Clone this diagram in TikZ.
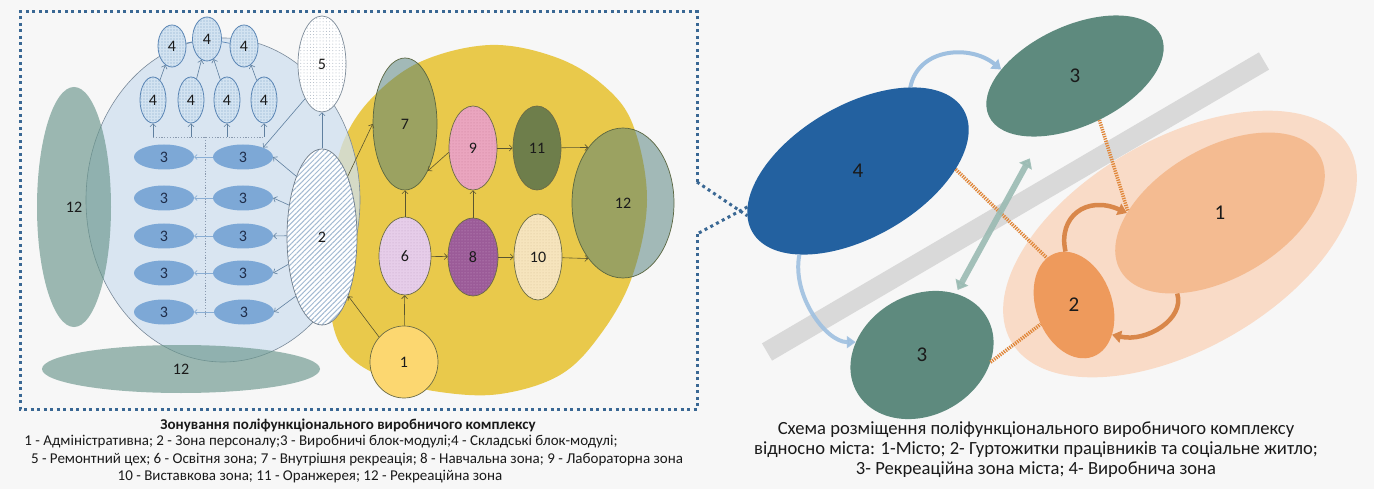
\documentclass[tikz,border=0pt]{standalone}
\usepackage{fontspec}
\setmainfont{Carlito}
\usetikzlibrary{shapes.geometric,patterns,patterns.meta,arrows.meta}
\definecolor{bgc}{HTML}{F7F7F7}
\definecolor{boxc}{HTML}{3A6894}
\definecolor{yel}{HTML}{E9C94B}
\definecolor{bluec}{HTML}{CFE0F0}
\definecolor{bluel}{HTML}{7A8A9A}
\definecolor{greyt}{HTML}{6A968C}
\definecolor{olvt}{HTML}{4E7C78}
\definecolor{olvl}{HTML}{5A6640}
\definecolor{threec}{HTML}{7DA8D6}
\definecolor{threet}{HTML}{1F2D4A}
\definecolor{fourf}{HTML}{D3E3F1}
\definecolor{fourd}{HTML}{7FA3C8}
\definecolor{fourl}{HTML}{5B86B5}
\definecolor{fivel}{HTML}{7D8B99}
\definecolor{fived}{HTML}{A9B4C0}
\definecolor{twol}{HTML}{6E7C8A}
\definecolor{twoh}{HTML}{A3BAD2}
\definecolor{sixf}{HTML}{E6CDE9}
\definecolor{sixd}{HTML}{C2A3C6}
\definecolor{eightf}{HTML}{9B5B98}
\definecolor{eightd}{HTML}{C99BC6}
\definecolor{ninef}{HTML}{EAA5BF}
\definecolor{nined}{HTML}{C98099}
\definecolor{tenf}{HTML}{F6E4BD}
\definecolor{tend}{HTML}{D6C196}
\definecolor{elevf}{HTML}{6E7E4B}
\definecolor{onef}{HTML}{FCD770}
\definecolor{yline}{HTML}{6B6B45}
\definecolor{barr}{HTML}{5F7F9F}
\definecolor{lbarr}{HTML}{8AAED4}
\definecolor{yarr}{HTML}{5A5530}
\definecolor{dotg}{HTML}{8B9BB0}
\definecolor{barc}{HTML}{D9D9D9}
\definecolor{rout}{HTML}{F9DBC7}
\definecolor{rone}{HTML}{F4BB91}
\definecolor{rtwo}{HTML}{EE9A5C}
\definecolor{rthree}{HTML}{5E8A7E}
\definecolor{rfour}{HTML}{2361A0}
\definecolor{odotc}{HTML}{E0873A}
\definecolor{dblc}{HTML}{9ABBB3}
\definecolor{bcurc}{HTML}{9FC0E0}
\definecolor{ocurc}{HTML}{D9874A}
\definecolor{txt}{HTML}{1A1A1A}
\begin{document}
\begin{tikzpicture}[x=1pt,y=-1pt,
  ell/.style={ellipse, inner sep=0pt, font=\fontsize{16}{19}\selectfont, text=txt},
  four/.style={ell, draw=fourl, line width=0.8pt, preaction={fill=fourf},
     pattern={Dots[radius=0.55pt,distance=3pt]}, pattern color=fourd},
  three/.style={ell, fill=threec, minimum width=60pt, minimum height=25pt, text=threet},
  yell/.style={ell, draw=yline, line width=0.7pt},
  larr/.style={draw=barr, line width=0.6pt, -{Straight Barb[length=3pt,width=6pt]}},
  sarr/.style={draw=lbarr, line width=0.7pt, -{Straight Barb[length=2.5pt,width=5pt]}},
  yarrow/.style={draw=yarr, line width=0.6pt, -{Straight Barb[length=3pt,width=6pt]}},
  dotl/.style={draw=dotg, line width=0.9pt, dash pattern=on 1.2pt off 1.6pt},
  boxdot/.style={draw=boxc, line width=3pt, dash pattern=on 3pt off 3.5pt},
  rlab/.style={inner sep=0pt, font=\fontsize{21}{24}\selectfont, text=txt},
  odot/.style={draw=odotc, line width=3.6pt, dash pattern=on 1.3pt off 1.1pt},
  bcurve/.style={draw=bcurc, line width=4pt, -{Triangle[length=9pt,width=12pt]}},
  ocurve/.style={draw=ocurc, line width=4.5pt, -{Triangle[length=9pt,width=12pt]}},
  capt/.style={inner sep=0pt, font=\fontsize{15}{18}\selectfont, text=txt},
  rcapt/.style={inner sep=0pt, font=\fontsize{18.6}{21}\selectfont, text=txt}
]
\useasboundingbox (0,0) rectangle (1374,489);
\fill[bgc] (0,0) rectangle (1374,489);

% ---------- left panel ----------
\fill[yel] plot[smooth cycle, tension=0.6] coordinates {(490,45) (555,57) (603,85) (633,125) (647,200) (632,277) (600,335) (560,375) (500,394) (440,392) (385,378) (348,355) (332,320) (331,260) (334,195) (342,145) (370,100) (420,62)};

\node[ellipse, minimum width=274pt, minimum height=324pt, fill=bluec, fill opacity=0.75, draw=bluel, line width=0.6pt] (bigc) at (223,200) {};

\node[ell, minimum width=74pt, minimum height=240pt, fill=greyt, fill opacity=0.65, text opacity=1] (l12a) at (74,207) {12};
\node[ell, minimum width=278pt, minimum height=48pt, fill=greyt, fill opacity=0.65, text opacity=1] (l12b) at (181,369) {12};

% dotted distribution lines
\coordinate (dl1) at (153,137);
\coordinate (dl2) at (191,137);
\coordinate (dl3) at (227,137);
\coordinate (dl4) at (264,137);
\coordinate (dlm) at (205,137);
\coordinate (dlb) at (205,318);
\draw[dotl] (dl1) -- (dl4);
\draw[dotl] (dlm) -- (dlb);

% 4s
\node[four, minimum width=28pt, minimum height=42pt] (t4a) at (172,46) {4};
\node[four, minimum width=29pt, minimum height=44pt] (t4b) at (207,39) {4};
\node[four, minimum width=28pt, minimum height=42pt] (t4c) at (244,46) {4};
\node[four, minimum width=26pt, minimum height=46pt] (m4a) at (153,100) {4};
\node[four, minimum width=26pt, minimum height=46pt] (m4b) at (191,100) {4};
\node[four, minimum width=26pt, minimum height=46pt] (m4c) at (227,100) {4};
\node[four, minimum width=26pt, minimum height=46pt] (m4d) at (264,100) {4};
\draw[draw=fourl, line width=0.7pt] (t4a) -- (t4b) -- (t4c);
\draw[larr] (m4a) -- (t4a);
\draw[larr] (m4b) -- (t4b);
\draw[larr] (m4c) -- (t4b);
\draw[larr] (m4d) -- (t4c);
\draw[larr] (dl1) -- (m4a);
\draw[larr] (dl2) -- (m4b);
\draw[larr] (dl3) -- (m4c);
\draw[larr] (dl4) -- (m4d);

% 3s
\node[three] (l31) at (164,157) {3};
\node[three] (l32) at (164,198) {3};
\node[three] (l33) at (164,236) {3};
\node[three] (l34) at (164,273) {3};
\node[three] (l35) at (164,312) {3};
\node[three] (r31) at (243,157) {3};
\node[three] (r32) at (243,198) {3};
\node[three] (r33) at (243,236) {3};
\node[three] (r34) at (243,273) {3};
\node[three] (r35) at (244,312) {3};
\foreach \k in {1,...,5}{\draw[sarr] (r3\k) -- (l3\k);}

% 5 and 2
\node[ell, minimum width=48pt, minimum height=96pt, draw=fivel, line width=0.7pt, preaction={fill=white}, pattern={Dots[radius=0.5pt,distance=3.2pt]}, pattern color=fived] (t5) at (322,64) {5};
\node[ell, minimum width=70pt, minimum height=176pt, draw=twol, line width=0.7pt, preaction={fill=white}, pattern={Lines[angle=45,distance=3.6pt,line width=1pt]}, pattern color=twoh] (t2) at (322,237) {2};

\draw[larr] (t2) -- (t5);
\draw[larr] (t5.244) -- (r31.25);
\draw[larr] (t2.113) -- (r31.east);
\draw[larr] (t2.136) -- (r32.east);
\draw[larr] (t2.178) -- (r33.east);
\draw[larr] (t2.219) -- (r34.east);
\draw[larr] (t2.246) -- (r35.east);

% yellow zone nodes
\node[ell, minimum width=64pt, minimum height=132pt, fill=olvt, fill opacity=0.5, text opacity=1, draw=olvl, line width=0.7pt] (t7) at (405,124) {7};
\node[ell, minimum width=102pt, minimum height=150pt, fill=olvt, fill opacity=0.5, text opacity=1, draw=olvl, line width=0.7pt] (t12) at (623,203) {12};
\node[yell, minimum width=48pt, minimum height=84pt, preaction={fill=ninef}, pattern={Dots[radius=0.5pt,distance=3pt]}, pattern color=nined] (t9) at (473,148) {9};
\node[yell, minimum width=48pt, minimum height=84pt, fill=elevf] (t11) at (537,148) {11};
\node[yell, minimum width=52pt, minimum height=78pt, preaction={fill=sixf}, pattern={Dots[radius=0.5pt,distance=3pt]}, pattern color=sixd] (t6) at (405,256) {6};
\node[yell, minimum width=50pt, minimum height=78pt, preaction={fill=eightf}, pattern={Dots[radius=0.5pt,distance=3pt]}, pattern color=eightd] (t8) at (473,257) {8};
\node[yell, minimum width=48pt, minimum height=86pt, preaction={fill=tenf}, pattern={Dots[radius=0.5pt,distance=3pt]}, pattern color=tend] (t10) at (538,257) {10};
\node[yell, minimum width=68pt, minimum height=72pt, fill=onef] (t1) at (404,362) {1};

\draw[yarrow] (t2.67) -- (t7.west);
\draw[yarrow] (t1.135) -- (t2.-66);
\draw[yarrow] (t1) -- (t6);
\draw[yarrow] (t6) -- (t7);
\draw[yarrow] (t6) -- (t8);
\draw[yarrow] (t8) -- (t9);
\draw[yarrow] (t8) -- (t10);
\draw[yarrow] (t9) -- (t11);
\draw[yarrow] (t9.190) -- (t7.-64);
\draw[yarrow] (t11) -- (t12.122);
\draw[yarrow] (t10) -- (t12.238);

% ---------- right panel ----------
\draw[draw=barc, line width=20pt] (767,352) -- (1264,61);
\node[ellipse, inner sep=0pt, minimum width=390pt, minimum height=210pt, rotate=30, fill=rout] (rout) at (1180,244) {};
\node[ellipse, inner sep=0pt, minimum width=230pt, minimum height=130pt, rotate=30, fill=rone] (r1) at (1220,213) {};
\node[ellipse, inner sep=0pt, minimum width=110pt, minimum height=76pt, rotate=110, fill=rtwo] (r2) at (1074,305) {};
\node[ellipse, inner sep=0pt, minimum width=190pt, minimum height=100pt, rotate=25, fill=rthree] (ru3) at (1075,76) {};
\node[ellipse, inner sep=0pt, minimum width=150pt, minimum height=120pt, rotate=30, fill=rthree] (rl3) at (922,355) {};
\node[ellipse, inner sep=0pt, minimum width=244pt, minimum height=132pt, rotate=30, fill=rfour] (r4) at (858,171) {};

\node[rlab] (r1t) at (r1.center) {1};
\node[rlab] (r2t) at (r2.center) {2};
\node[rlab] (ru3t) at (ru3.center) {3};
\node[rlab] (rl3t) at (rl3.center) {3};
\node[rlab] (r4t) at (r4.center) {4};

\draw[odot] (r4.-29) -- (r2.10);
\draw[odot] (ru3.-86) -- (r1.149);
\draw[odot] (rl3.-36) -- (r2.100);

\draw[draw=dblc, line width=6pt, opacity=0.9, {Triangle[length=9pt,width=14pt]}-{Triangle[length=9pt,width=14pt]}, shorten <=4pt, shorten >=25pt] (rl3) -- (ru3);

\draw[bcurve] (r4.28) .. controls +(8,-40) and +(-30,-25) .. (ru3.150);
\draw[bcurve, opacity=0.9] (r4.-155) .. controls +(-8,40) and +(-30,0) .. (rl3.139);

\draw[ocurve] (r2.-11) .. controls +(-8,-35) and +(-40,-18) .. (r1.150);
\draw[ocurve] (r1.-148) .. controls +(8,25) and +(35,8) .. (r2.-148);

% ---------- dotted frame ----------
\coordinate (bxa) at (697,182);
\coordinate (bxb) at (697,234);
\draw[boxdot] (bxa) -- (697,12) -- (20,12) -- (20,409) -- (697,409) -- (bxb);
\draw[boxdot] (bxa) -- (r4.172);
\draw[boxdot] (r4.168) -- (bxb);

% ---------- captions ----------
\node[capt] (c1) at (348,425) {\bfseries Зонування поліфункціонального виробничого комплексу};
\node[capt] (c2) at (321,442) {1 - Адміністративна; 2 - Зона персоналу;3 - Виробничі блок-модулі;4 - Складські блок-модулі;};
\node[capt] (c3) at (357,460) {5 - Ремонтний цех; 6 - Освітня зона; 7 - Внутрішня рекреація; 8 - Навчальна зона; 9 - Лабораторна зона};
\node[capt] (c4) at (310,477) {10 - Виставкова зона; 11 - Оранжерея; 12 - Рекреаційна зона};

\node[rcapt] (d1) at (1036,430) {Схема розміщення поліфункціонального виробничого комплексу};
\node[rcapt] (d2) at (1036,450) {відносно міста: 1-Місто; 2- Гуртожитки працівників та соціальне житло;};
\node[rcapt] (d3) at (1036,470) {3- Рекреаційна зона міста; 4- Виробнича зона};
\end{tikzpicture}
\end{document}
